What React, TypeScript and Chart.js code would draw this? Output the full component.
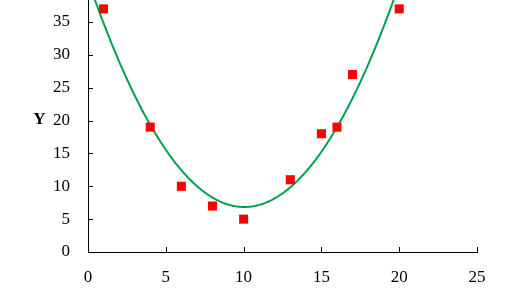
import React, { useEffect, useRef } from "react";
import { Chart, registerables } from "chart.js";

Chart.register(...registerables);

const xValues = [1, 4, 6, 8, 10, 13, 15, 16, 17, 20];
const yValues = [37, 19, 10, 7, 5, 11, 18, 19, 27, 37];
const xTicks = [0, 5, 10, 15, 20, 25];
const yTicks = [0, 5, 10, 15, 20, 25, 30, 35];
const yAxisTitle = "Y";

const FONT = "'Liberation Serif', 'Times New Roman', serif";

// Second-order polynomial (least squares) trendline of the data, like a spreadsheet trendline
function quadFit(xs: number[], ys: number[]) {
  const n = xs.length;
  let s1 = 0, s2 = 0, s3 = 0, s4 = 0, t0 = 0, t1 = 0, t2 = 0;
  for (let i = 0; i < n; i++) {
    const x = xs[i], y = ys[i];
    s1 += x; s2 += x * x; s3 += x * x * x; s4 += x * x * x * x;
    t0 += y; t1 += x * y; t2 += x * x * y;
  }
  const A = [
    [n, s1, s2, t0],
    [s1, s2, s3, t1],
    [s2, s3, s4, t2],
  ];
  for (let c = 0; c < 3; c++) {
    for (let r = c + 1; r < 3; r++) {
      const f = A[r][c] / A[c][c];
      for (let k = c; k < 4; k++) A[r][k] -= f * A[c][k];
    }
  }
  const sol = [0, 0, 0];
  for (let r = 2; r >= 0; r--) {
    let s = A[r][3];
    for (let k = r + 1; k < 3; k++) s -= A[r][k] * sol[k];
    sol[r] = s / A[r][r];
  }
  return sol; // c0, c1, c2
}

export default function App() {
  const ref = useRef<HTMLCanvasElement>(null);
  useEffect(() => {
    if (!ref.current) return;
    const [c0, c1, c2] = quadFit(xValues, yValues);
    const trend: { x: number; y: number }[] = [];
    for (let i = 0; i <= 250; i++) {
      const x = i / 10;
      trend.push({ x, y: c0 + c1 * x + c2 * x * x });
    }
    const points = xValues.map((x, i) => ({ x, y: yValues[i] }));

    const innerTicks = {
      id: "innerTicks",
      afterDraw(chart: any) {
        const ctx = chart.ctx;
        const xs = chart.scales.x;
        const ys = chart.scales.y;
        const { left, bottom } = chart.chartArea;
        ctx.save();
        ctx.strokeStyle = "#000";
        ctx.lineWidth = 1;
        ctx.beginPath();
        xTicks.forEach((v) => {
          if (v === 0) return;
          const px = Math.round(xs.getPixelForValue(v)) + 0.5;
          ctx.moveTo(px, bottom);
          ctx.lineTo(px, bottom - 5);
        });
        yTicks.forEach((v) => {
          if (v === 0) return;
          const py = Math.round(ys.getPixelForValue(v)) + 0.5;
          ctx.moveTo(left, py);
          ctx.lineTo(left + 5, py);
        });
        ctx.stroke();
        ctx.fillStyle = "#000";
        ctx.font = `bold 17px ${FONT}`;
        ctx.textAlign = "center";
        ctx.textBaseline = "middle";
        ctx.fillText(yAxisTitle, 39.5, 120);
        ctx.restore();
      },
    };

    const chart = new Chart(ref.current, {
      type: "scatter",
      data: {
        datasets: [
          {
            label: "data",
            data: points,
            backgroundColor: "#FF0000",
            borderColor: "#FF0000",
            borderWidth: 0,
            pointStyle: "rect",
            pointRadius: 6.4,
            order: 1,
          },
          {
            label: "trend",
            data: trend,
            showLine: true,
            borderColor: "#00A050",
            borderWidth: 2,
            pointRadius: 0,
            fill: false,
            tension: 0,
            order: 2,
          } as any,
        ],
      },
      options: {
        animation: false,
        responsive: true,
        maintainAspectRatio: false,
        layout: { autoPadding: false, padding: { left: 0, right: 39, top: 0, bottom: 0 } },
        plugins: { legend: { display: false }, tooltip: { enabled: false } },
        scales: {
          x: {
            type: "linear",
            min: 0,
            max: 25,
            afterBuildTicks: (s: any) => {
              s.ticks = xTicks.map((v) => ({ value: v }));
            },
            afterFit: (s: any) => {
              s.height = 38;
              s.paddingLeft = 0;
              s.paddingRight = 0;
            },
            ticks: {
              color: "#000",
              font: { family: FONT, size: 17 },
              padding: 15,
              maxRotation: 0,
              autoSkip: false,
            },
            grid: { display: true, drawOnChartArea: false, drawTicks: false },
            border: { display: true, color: "#000", width: 1 },
          },
          y: {
            type: "linear",
            min: 0,
            max: 38.35,
            afterBuildTicks: (s: any) => {
              s.ticks = yTicks.map((v) => ({ value: v }));
            },
            afterFit: (s: any) => {
              s.width = 88;
              s.paddingTop = 0;
              s.paddingBottom = 0;
            },
            ticks: {
              color: "#000",
              font: { family: FONT, size: 17 },
              padding: 18,
              autoSkip: false,
            },
            grid: { display: true, drawOnChartArea: false, drawTicks: false },
            border: { display: true, color: "#000", width: 1 },
          },
        },
      },
      plugins: [innerTicks],
    });
    return () => chart.destroy();
  }, []);

  return (
    <div style={{ position: "fixed", left: 0, top: 0, width: 516, height: 290, background: "#fff" }}>
      <canvas ref={ref} />
    </div>
  );
}
